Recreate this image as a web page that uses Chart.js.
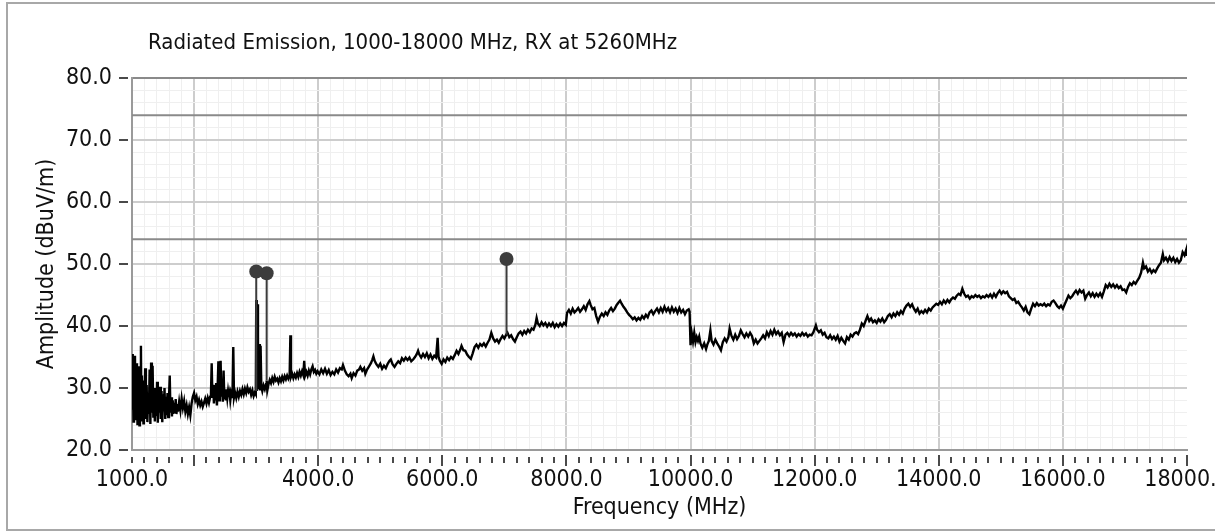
<!DOCTYPE html>
<html>
<head>
<meta charset="utf-8">
<script src="https://cdn.jsdelivr.net/npm/chart.js@4.4.1/dist/chart.umd.min.js"></script>
<style>
  html, body { margin: 0; padding: 0; background: #fff; }
  #wrap { width: 1215px; height: 531px; }
</style>
</head>
<body>
<div id="wrap"><canvas id="emission" width="1215" height="531"></canvas></div>
<script>
// Radiated emission sweep, 1-18 GHz
const chartTitle = "Radiated Emission, 1000-18000 MHz, RX at 5260MHz";
const xTitle = "Frequency (MHz)";
const yTitle = "Amplitude (dBuV/m)";

const freqMHz = [
  1000,1008,1016,1024,1032,1040,1048,1056,1064,1072,1080,1088,1096,
  1104,1112,1120,1128,1136,1144,1152,1160,1168,1176,1184,1192,1200,
  1212,1224,1236,1248,1260,1272,1284,1296,1308,1320,1332,1344,1356,1368,1380,
  1392,1404,1416,1428,1440,1452,1464,1476,1488,1500,1512,1524,1536,1548,1560,
  1572,1584,1596,1608,1620,1632,1644,1656,1668,1680,1692,1704,1716,1728,1740,
  1760,1780,1800,1820,1840,1860,1880,1900,1920,1940,1960,1980,2000,
  2020,2040,2060,2080,2100,2120,2140,2160,2180,2200,2220,2240,2260,
  2272,2284,2296,2308,2320,2332,2344,2356,2368,2380,2392,
  2404,2416,2428,2440,2452,2464,2476,2488,2500,2512,2524,
  2536,2548,2560,2572,2584,2596,2608,2620,2632,2644,2660,
  2680,2700,2720,2740,2760,2780,2800,2820,2840,2860,2880,2900,2920,2940,2960,2980,
  2995,3002,3010,3020,3030,3050,3060,3072,3084,3100,3120,3140,3160,3170,3180,3200,
  3220,3240,3260,3280,3300,3320,3340,3360,3380,3400,3420,3440,3460,3480,3500,3520,3540,
  3552,3562,3580,3600,3620,3640,3660,3680,3700,3720,3740,3760,3775,3790,
  3810,3830,3850,3870,3890,3910,3930,3950,3970,3990,
  4020,4050,4080,4110,4140,4170,4200,4230,4260,4290,4320,4350,4380,4400,
  4430,4460,4490,4520,4540,4570,4600,4630,4660,4680,4710,4740,4760,4790,
  4820,4850,4870,4890,4910,4940,4970,5000,5030,5060,5090,5120,5150,5170,
  5200,5230,5260,5290,5320,5350,5380,5410,5440,5470,5500,5530,5560,5590,
  5610,5630,5660,5690,5720,5750,5780,5810,5840,5870,5900,5925,5940,5960,
  5990,6020,6050,6080,6110,6140,6170,6200,6230,6260,6290,6310,6340,6370,
  6400,6430,6460,6490,6520,6550,6580,6610,6640,6670,6700,6730,6760,6790,
  6820,6850,6880,6910,6940,6970,7000,7030,7050,7080,7110,7140,7170,7200,
  7230,7260,7290,7320,7350,7380,7410,7440,7470,7500,7520,7540,7570,7600,
  7630,7660,7690,7720,7750,7780,7810,7840,7870,7900,7930,7960,7990,
  8010,8040,8070,8100,8130,8160,8190,8220,8250,8280,8310,8340,8370,8390,
  8420,8450,8480,8510,8540,8570,8600,8630,8660,8690,8720,8750,8780,8810,
  8840,8865,8890,8920,8950,8980,9010,9040,9070,9100,9130,9160,9190,9220,
  9250,9280,9310,9340,9370,9400,9430,9460,9490,9520,9550,9580,9610,9640,
  9670,9700,9730,9760,9790,9820,9850,9880,9910,9940,9970,9985,10000,
  10020,10040,10060,10080,10100,10120,10140,10160,10190,10220,10250,10270,10295,10320,
  10340,10370,10400,10430,10460,10490,10520,10550,10580,10610,10630,10660,10690,10720,
  10750,10780,10810,10840,10870,10900,10930,10960,10990,11020,11050,11080,11110,11140,
  11170,11200,11230,11260,11290,11320,11350,11380,11410,11440,11470,11500,11530,11560,
  11590,11620,11650,11680,11710,11740,11770,11800,11830,11860,11890,11920,11950,11980,
  12020,12040,12070,12100,12130,12160,12190,12220,12250,12280,12310,12340,12370,12400,
  12430,12460,12490,12520,12550,12580,12610,12640,12670,12700,12730,12760,12790,12820,
  12850,12880,12910,12940,12970,13000,13030,13060,13090,13120,13150,13180,13210,13240,
  13270,13300,13330,13360,13390,13420,13450,13480,13510,13540,13570,13600,13630,13660,
  13690,13720,13750,13780,13810,13840,13870,13900,13930,13960,13990,14020,14050,14080,
  14110,14140,14170,14200,14230,14260,14290,14320,14350,14380,14410,14440,14470,14500,
  14530,14560,14590,14620,14650,14680,14710,14740,14770,14800,
  14830,14860,14890,14920,14950,14980,15010,15040,15070,15100,15130,15160,15190,15220,
  15250,15280,15310,15340,15370,15400,15430,15460,15490,15520,15550,15580,15610,15640,
  15670,15700,15730,15760,15790,15820,15850,15880,15910,15940,15970,16000,16030,16060,
  16090,16120,16150,16180,16210,16240,16270,16300,16330,16360,16390,16420,16450,16480,
  16510,16540,16570,16600,16630,16660,16690,16720,16750,16780,16810,16840,16870,16900,
  16930,16960,16990,17020,17050,17080,17110,17140,17170,17200,17230,17260,17290,17310,
  17340,17370,17400,17430,17460,17490,17520,17550,17580,17610,17630,17660,17690,17720,
  17750,17780,17810,17840,17870,17900,17930,17960,17990,18000
];

const ampDb = [
  35.5,26.5,34.8,24.6,33.0,27.5,35.2,25.0,31.8,26.0,34.0,24.2,30.5,
  27.0,33.5,24.0,29.5,26.5,36.8,24.8,32.0,25.5,30.0,24.3,31.2,26.0,
  33.2,25.0,30.5,24.5,29.0,25.8,33.0,24.2,34.1,26.0,33.6,25.2,30.0,24.6,29.5,
  25.5,31.0,24.4,29.8,26.0,30.2,25.0,29.5,24.5,29.0,26.2,30.0,25.0,28.6,25.6,
  29.2,25.3,28.4,32.0,26.0,28.5,25.4,28.0,25.8,27.6,26.0,28.2,25.8,27.4,26.2,
  27.8,26.4,28.3,26.8,27.9,26.2,27.2,25.8,26.9,25.6,27.5,28.6,29.2,
  28.0,28.6,27.4,28.1,27.2,27.8,27.0,27.6,28.3,27.5,28.4,27.6,28.6,
  29.0,34.0,28.4,30.5,27.5,30.0,28.0,30.8,27.2,30.2,34.3,
  28.0,30.4,34.4,28.6,30.2,27.8,32.8,28.2,29.8,28.0,29.6,
  28.4,29.5,28.6,29.2,28.0,29.0,28.4,29.3,36.6,28.5,29.3,
  28.4,29.4,28.6,29.5,28.9,29.8,29.0,29.9,29.2,30.1,29.4,29.8,28.9,29.6,28.7,29.3,
  29.0,44.2,29.5,43.5,29.8,37.1,29.6,36.8,30.2,29.5,30.4,29.8,30.6,31.2,29.6,30.6,
  31.3,30.8,31.6,31.0,31.8,31.2,31.5,30.9,31.6,31.1,31.8,31.2,31.9,31.4,32.0,31.5,32.0,
  38.5,31.8,32.3,31.6,32.2,31.7,32.4,31.8,32.6,32.0,32.7,32.1,34.4,32.0,
  32.6,32.0,32.8,32.2,33.0,33.5,32.6,32.9,32.3,32.7,
  32.2,33.0,32.4,33.1,32.3,32.9,32.1,32.6,32.2,33.0,32.5,33.2,33.0,33.7,
  32.8,32.2,31.9,32.3,31.6,32.4,32.0,32.8,33.0,33.4,32.8,33.2,32.3,33.0,
  33.5,34.0,34.5,35.1,34.4,33.8,33.4,33.9,33.1,33.6,33.2,33.9,34.4,34.6,
  33.8,33.4,33.9,34.3,34.0,34.8,34.4,34.9,34.5,34.9,34.3,34.6,35.0,35.5,
  36.0,35.4,34.9,35.5,35.0,35.6,34.8,35.4,34.7,35.2,34.9,38.1,35.0,34.4,
  33.9,34.6,34.2,34.9,34.5,35.0,34.7,35.3,36.0,35.5,36.2,36.8,36.1,36.0,
  35.4,35.0,34.7,35.6,36.6,37.0,36.5,37.1,36.8,37.2,36.7,37.3,37.8,38.9,
  38.0,37.5,37.8,37.3,37.9,38.4,38.0,38.6,38.9,38.2,38.5,37.9,37.5,38.2,
  38.8,39.1,38.6,39.2,38.8,39.4,39.0,39.6,39.4,40.2,41.3,40.4,40.0,40.6,
  40.1,40.5,39.9,40.4,40.0,40.5,39.8,40.3,39.9,40.4,40.0,40.5,40.2,
  42.1,42.6,42.0,42.8,42.2,42.5,42.9,42.3,42.7,43.2,42.6,43.5,44.0,43.4,
  42.7,42.9,41.6,40.7,41.5,42.0,41.6,42.2,41.8,42.5,42.9,42.4,42.8,43.4,
  43.8,44.1,43.6,43.1,42.7,42.2,41.8,41.5,41.1,41.4,40.9,41.3,41.0,41.6,
  41.2,41.8,41.4,42.2,42.5,41.9,42.4,42.8,42.2,42.9,42.3,43.1,42.4,42.9,
  42.2,43.0,42.3,42.8,42.1,42.9,42.2,42.6,41.9,42.5,42.7,42.3,36.9,
  38.8,37.5,38.9,37.4,38.2,37.6,38.3,37.2,36.5,37.2,36.3,37.0,37.6,39.3,
  37.6,37.0,37.8,37.2,36.7,36.1,37.4,38.0,37.5,38.2,39.6,38.4,37.8,38.6,
  37.9,38.4,39.3,38.7,38.2,38.8,38.3,38.9,38.4,37.2,37.8,37.2,37.6,38.0,
  38.5,38.0,39.0,38.4,39.2,38.6,39.4,38.7,39.1,38.5,38.9,37.4,38.6,38.9,
  38.4,38.9,38.5,38.8,38.3,38.7,38.4,38.9,38.5,38.8,38.3,38.6,38.5,39.0,
  40.1,39.4,39.0,39.3,38.6,38.9,38.2,38.0,38.5,37.9,38.3,37.8,38.4,37.5,
  38.1,37.6,37.2,38.2,37.8,38.6,38.3,38.8,39.0,38.7,39.4,40.4,40.0,40.8,
  41.6,40.8,41.2,40.6,40.9,40.5,41.1,40.7,41.2,40.6,41.0,41.6,41.9,41.4,
  42.0,41.6,42.2,41.8,42.4,42.0,42.8,43.3,43.6,43.1,43.5,42.8,42.3,42.8,
  42.0,42.4,42.1,42.6,42.2,42.8,42.5,43.0,43.3,43.6,43.4,43.9,43.5,44.1,
  43.7,44.2,43.8,44.3,44.6,44.4,44.9,45.2,45.0,46.0,45.2,44.7,44.9,44.4,
  44.8,44.6,45.0,44.7,44.9,44.5,44.8,44.6,45.0,44.7,
  45.1,44.6,45.2,44.7,45.3,45.7,45.2,45.6,45.3,45.5,44.8,44.5,44.2,44.4,
  43.7,43.9,43.4,43.0,42.5,43.1,42.2,41.9,42.8,43.6,43.2,43.7,43.3,43.5,
  43.3,43.6,43.2,43.5,43.3,43.9,44.1,43.7,43.2,42.9,43.3,42.8,43.5,44.2,
  44.9,44.5,44.8,45.3,45.7,45.2,45.8,45.4,45.7,44.4,45.0,45.4,44.8,45.3,
  44.7,45.2,44.8,45.3,44.7,45.6,46.6,46.2,46.8,46.3,46.7,46.2,46.6,46.1,
  46.4,45.8,45.9,45.4,46.3,46.9,46.6,47.1,46.8,47.3,47.8,48.6,50.2,49.3,
  49.6,48.8,49.2,48.6,49.0,48.7,49.3,49.8,50.2,51.6,50.6,51.0,50.4,51.1,
  50.5,51.0,50.3,50.8,50.2,50.6,51.9,51.4,52.4,51.3
];

// limit lines (dBuV/m)
const limitLevels = [74, 54];

// peak markers
const markerFreq = [3002, 3170, 7035];
const markerAmp = [48.8, 48.5, 50.8];
const markerBase = [29.5, 31.2, 38.6];

const xTickLabels = [1000, 4000, 6000, 8000, 10000, 12000, 14000, 16000, 18000];
const yTickLabels = [20, 30, 40, 50, 60, 70, 80];

const FONT = '"DejaVu Sans Condensed", "DejaVu Sans", sans-serif';
const TEXT = '#111111';

const traceData = freqMHz.map((f, i) => ({ x: f, y: ampDb[i] }));

const datasets = [];
datasets.push({
  label: 'markers',
  data: markerFreq.map((f, i) => ({ x: f, y: markerAmp[i] })),
  showLine: false,
  pointRadius: 7,
  pointBackgroundColor: '#3c3c3c',
  pointBorderColor: '#3c3c3c',
  pointBorderWidth: 0
});
markerFreq.forEach((f, i) => {
  datasets.push({
    label: 'stem' + i,
    data: [{ x: f, y: markerAmp[i] }, { x: f, y: markerBase[i] }],
    borderColor: '#3c3c3c',
    borderWidth: 2,
    pointRadius: 0
  });
});
datasets.push({
  label: 'trace',
  data: traceData,
  borderColor: '#000000',
  borderWidth: 2.4,
  pointRadius: 0,
  tension: 0
});
limitLevels.forEach((lv) => {
  datasets.push({
    label: 'limit ' + lv,
    data: [{ x: 1000, y: lv }, { x: 18000, y: lv }],
    borderColor: '#8a8a8a',
    borderWidth: 2,
    pointRadius: 0
  });
});

// outer frame, title, tick marks
const decor = {
  id: 'decor',
  beforeDraw(chart) {
    const c = chart.ctx;
    c.save();
    c.fillStyle = '#ffffff';
    c.fillRect(0, 0, chart.width, chart.height);
    c.strokeStyle = '#a8a8a8';
    c.lineWidth = 2;
    c.beginPath();
    c.moveTo(7, 531); c.lineTo(7, 3); c.lineTo(1215, 3);
    c.moveTo(7, 530); c.lineTo(1215, 530);
    c.stroke();
    c.restore();
  },
  afterDraw(chart) {
    const c = chart.ctx;
    const xs = chart.scales.x, ys = chart.scales.y;
    const area = chart.chartArea;
    c.save();
    c.fillStyle = TEXT;
    c.font = '22px ' + FONT;
    c.textBaseline = 'alphabetic';
    c.fillText(chartTitle, 148, 49);

    c.strokeStyle = '#4a4a4a';
    c.lineWidth = 2;
    c.beginPath();
    xs.ticks.forEach(t => {
      const px = Math.round(xs.getPixelForValue(t.value));
      const major = t.value % 2000 === 0;
      c.moveTo(px, area.bottom + (major ? 5 : 7));
      c.lineTo(px, area.bottom + (major ? 16 : 13));
    });
    yTickLabels.forEach(v => {
      const py = Math.round(ys.getPixelForValue(v));
      c.moveTo(area.left - 13, py);
      c.lineTo(area.left - 4, py);
    });
    c.stroke();
    c.restore();
  }
};

new Chart(document.getElementById('emission'), {
  type: 'line',
  data: { datasets },
  options: {
    responsive: false,
    animation: false,
    devicePixelRatio: 1,
    layout: { padding: { left: 8, right: 28, top: 78, bottom: 0 } },
    plugins: { legend: { display: false }, tooltip: { enabled: false }, title: { display: false } },
    scales: {
      x: {
        type: 'linear',
        min: 1000,
        max: 18000,
        afterBuildTicks: (s) => {
          const t = [];
          for (let v = 1000; v <= 18000; v += 200) t.push({ value: v });
          s.ticks = t;
        },
        afterFit: (s) => { s.height = 81; s.paddingLeft = 0; s.paddingRight = 0; },
        ticks: {
          autoSkip: false,
          maxRotation: 0,
          padding: 16,
          color: TEXT,
          font: { family: FONT, size: 23 },
          callback: (v) => xTickLabels.includes(v) ? v.toFixed(1) : ''
        },
        grid: {
          drawTicks: false,
          color: (ctx) => {
            const v = ctx.tick ? ctx.tick.value : 0;
            if (v === 18000 || v === 1000) return 'rgba(0,0,0,0)';
            return v % 2000 === 0 ? '#cdcdcd' : '#efefef';
          },
          lineWidth: (ctx) => (ctx.tick && ctx.tick.value % 2000 === 0) ? 2 : 1
        },
        border: { color: '#9a9a9a', width: 2 },
        title: {
          display: true,
          text: xTitle,
          color: TEXT,
          font: { family: FONT, size: 23 },
          padding: { top: 0, bottom: 9 }
        }
      },
      y: {
        type: 'linear',
        min: 20,
        max: 80,
        afterBuildTicks: (s) => {
          const t = [];
          for (let v = 20; v <= 80; v += 2) t.push({ value: v });
          s.ticks = t;
        },
        afterFit: (s) => { s.width = 124; s.paddingTop = 0; s.paddingBottom = 0; },
        ticks: {
          autoSkip: false,
          padding: 20,
          color: TEXT,
          font: { family: FONT, size: 23 },
          callback: (v) => yTickLabels.includes(v) ? v.toFixed(1) : ''
        },
        grid: {
          drawTicks: false,
          color: (ctx) => {
            const v = ctx.tick ? ctx.tick.value : 0;
            if (v === 80) return '#8a8a8a';
            if (v === 20) return 'rgba(0,0,0,0)';
            return v % 10 === 0 ? '#cdcdcd' : '#efefef';
          },
          lineWidth: (ctx) => (ctx.tick && ctx.tick.value % 10 === 0) ? 2 : 1
        },
        border: { color: '#9a9a9a', width: 2 },
        title: {
          display: true,
          text: yTitle,
          color: TEXT,
          font: { family: FONT, size: 23 },
          padding: { top: 25, bottom: 0 }
        }
      }
    }
  },
  plugins: [decor]
});
</script>
</body>
</html>
